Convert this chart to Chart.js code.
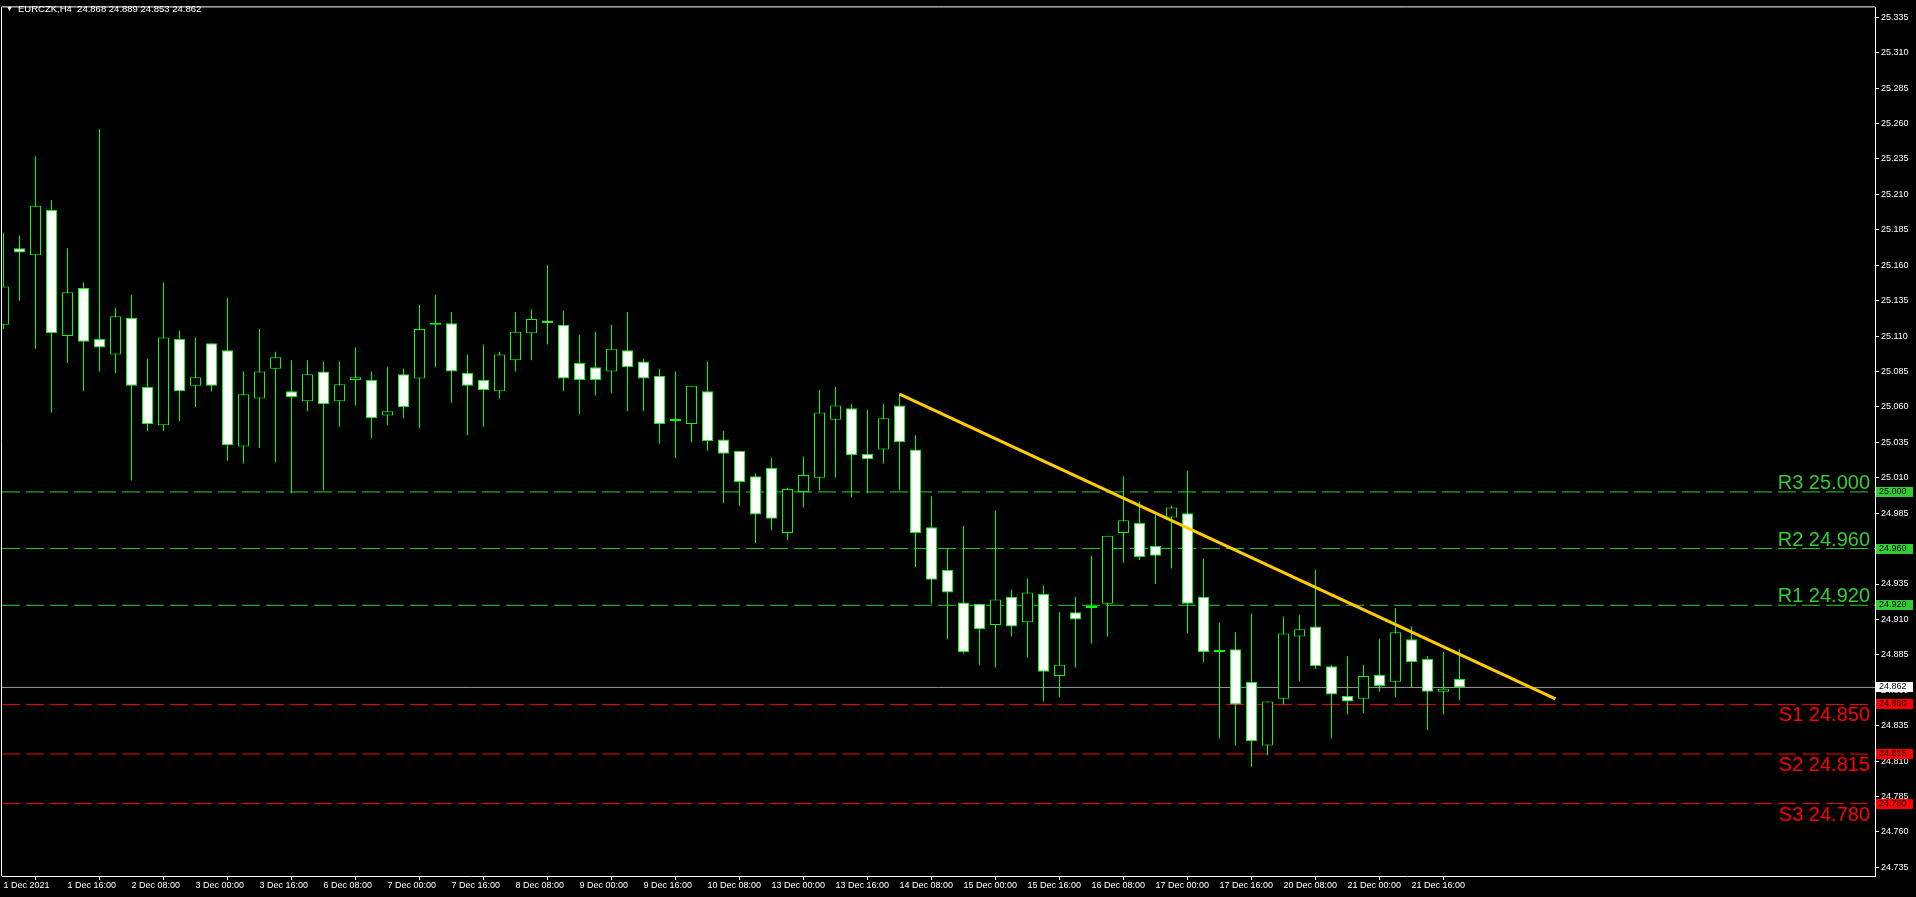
<!DOCTYPE html>
<html>
<head>
<meta charset="utf-8">
<script src="https://cdn.jsdelivr.net/npm/chart.js@4.4.0/dist/chart.umd.min.js"></script>
<style>
  html, body { margin: 0; padding: 0; background: #000; overflow: hidden; }
  #wrap { position: relative; width: 1916px; height: 897px; }
  .hd { position: absolute; top: 4px; color: #fff; font: 9px 'Liberation Sans', Arial, sans-serif; white-space: pre; line-height: 10px; }
</style>
</head>
<body>
<div id="wrap">
  <canvas id="chart" width="1916" height="897"></canvas>
  <div class="hd" style="left:6px;font-size:7px;">▼</div>
  <div class="hd" style="left:18px;font-size:9.5px;">EURCZK,H4  24.868 24.889 24.853 24.862</div>
</div>
<script>
// H4 bars, 1 Dec 2021 00:00 .. 22 Dec 04:00
const opens = [
  25.118, 25.172, 25.167, 25.199, 25.110, 25.144, 25.108, 25.097, 25.123, 25.074,
  25.047, 25.108, 25.075, 25.105, 25.100, 25.032, 25.066, 25.087, 25.071, 25.064,
  25.085, 25.064, 25.079, 25.079, 25.054, 25.083, 25.080, 25.118, 25.119, 25.084,
  25.079, 25.071, 25.093, 25.112, 25.121, 25.118, 25.091, 25.088, 25.085, 25.100,
  25.092, 25.082, 25.050, 25.048, 25.071, 25.037, 25.029, 25.011, 25.017, 24.971,
  25.000, 25.010, 25.051, 25.059, 25.027, 25.030, 25.061, 25.030, 24.975, 24.945,
  24.922, 24.921, 24.906, 24.926, 24.908, 24.928, 24.870, 24.915, 24.918, 24.921,
  24.971, 24.978, 24.962, 24.982, 24.985, 24.926, 24.887, 24.889, 24.866, 24.821,
  24.854, 24.898, 24.905, 24.877, 24.856, 24.854, 24.871, 24.866, 24.896, 24.882,
  24.859, 24.868
];
const highs = [
  25.183, 25.181, 25.237, 25.206, 25.172, 25.148, 25.256, 25.130, 25.139, 25.094,
  25.148, 25.114, 25.109, 25.105, 25.137, 25.085, 25.115, 25.099, 25.093, 25.093,
  25.092, 25.092, 25.102, 25.085, 25.088, 25.087, 25.132, 25.139, 25.127, 25.097,
  25.104, 25.099, 25.127, 25.129, 25.160, 25.128, 25.111, 25.113, 25.118, 25.127,
  25.094, 25.087, 25.085, 25.075, 25.092, 25.043, 25.029, 25.013, 25.024, 25.003,
  25.025, 25.072, 25.074, 25.062, 25.058, 25.062, 25.069, 25.040, 24.997, 24.960,
  24.976, 24.921, 24.987, 24.931, 24.939, 24.934, 24.915, 24.926, 24.955, 24.969,
  25.011, 24.993, 24.984, 24.990, 25.015, 24.953, 24.908, 24.901, 24.914, 24.852,
  24.912, 24.913, 24.945, 24.878, 24.884, 24.878, 24.896, 24.918, 24.905, 24.884,
  24.887, 24.889
];
const lows = [
  25.115, 25.135, 25.101, 25.056, 25.091, 25.071, 25.085, 25.084, 25.008, 25.043,
  25.043, 25.050, 25.060, 25.071, 25.022, 25.020, 25.031, 25.021, 24.999, 25.057,
  25.001, 25.046, 25.061, 25.038, 25.047, 25.052, 25.045, 25.088, 25.063, 25.040,
  25.046, 25.066, 25.085, 25.093, 25.104, 25.071, 25.055, 25.068, 25.070, 25.057,
  25.057, 25.034, 25.024, 25.035, 25.029, 24.992, 24.990, 24.964, 24.973, 24.966,
  24.989, 25.001, 25.010, 24.996, 24.999, 25.020, 25.001, 24.947, 24.921, 24.896,
  24.886, 24.878, 24.876, 24.898, 24.883, 24.852, 24.855, 24.876, 24.893, 24.898,
  24.950, 24.952, 24.935, 24.946, 24.900, 24.880, 24.826, 24.821, 24.806, 24.814,
  24.850, 24.866, 24.875, 24.826, 24.843, 24.844, 24.859, 24.855, 24.862, 24.832,
  24.843, 24.853
];
const closes = [
  25.145, 25.169, 25.202, 25.112, 25.141, 25.106, 25.102, 25.124, 25.075, 25.048,
  25.109, 25.071, 25.081, 25.075, 25.033, 25.069, 25.085, 25.095, 25.067, 25.083,
  25.062, 25.076, 25.081, 25.052, 25.057, 25.060, 25.115, 25.118, 25.085, 25.075,
  25.072, 25.097, 25.113, 25.122, 25.119, 25.080, 25.079, 25.079, 25.101, 25.088,
  25.080, 25.048, 25.050, 25.075, 25.036, 25.027, 25.007, 24.984, 24.981, 25.002,
  25.012, 25.056, 25.061, 25.026, 25.023, 25.052, 25.035, 24.971, 24.938, 24.929,
  24.887, 24.903, 24.924, 24.905, 24.929, 24.873, 24.878, 24.910, 24.918, 24.969,
  24.980, 24.954, 24.955, 24.989, 24.921, 24.887, 24.887, 24.850, 24.824, 24.852,
  24.900, 24.903, 24.877, 24.857, 24.852, 24.870, 24.863, 24.901, 24.880, 24.859,
  24.861, 24.862
];

const xTickIdx = [0, 4, 8, 12, 16, 20, 24, 28, 32, 36, 40, 44, 48, 52, 56, 60, 64, 68, 72, 76, 80, 84, 88];
const xTickLabels = [
  '1 Dec 2021', '1 Dec 16:00', '2 Dec 08:00', '3 Dec 00:00', '3 Dec 16:00', '6 Dec 08:00',
  '7 Dec 00:00', '7 Dec 16:00', '8 Dec 08:00', '9 Dec 00:00', '9 Dec 16:00', '10 Dec 08:00',
  '13 Dec 00:00', '13 Dec 16:00', '14 Dec 08:00', '15 Dec 00:00', '15 Dec 16:00', '16 Dec 08:00',
  '17 Dec 00:00', '17 Dec 16:00', '20 Dec 08:00', '21 Dec 00:00', '21 Dec 16:00'
];
const yTicks = [
  25.335, 25.310, 25.285, 25.260, 25.235, 25.210, 25.185, 25.160, 25.135, 25.110,
  25.085, 25.060, 25.035, 25.010, 24.985, 24.960, 24.935, 24.910, 24.885, 24.860,
  24.835, 24.810, 24.785, 24.760, 24.735
];

const resistNames = ['R3', 'R2', 'R1'];
const resistVals = [25.000, 24.960, 24.920];
const supportNames = ['S1', 'S2', 'S3'];
const supportVals = [24.850, 24.815, 24.780];
const lastPrice = 24.862;
const trendIdx = [56, 97];
const trendVals = [25.069, 24.854];

// view window
const xMin = -0.09375, xMax = 116.96875;
const yMin = 24.7289, yMax = 25.342;

const GREEN = '#00ff00';
const RGREEN = '#32cd32';
const RED = '#ff0000';
const FONT = "'Liberation Sans', Arial, sans-serif";

const bodies = opens.map((o, i) => ({ x: i, y: [o, closes[i]] }));
const bodyFill = opens.map((o, i) => closes[i] < o ? '#ffffff' : '#000000');
const wicks = lows.map((l, i) => ({ x: i, y: [l, highs[i]] }));

function levelLine(v, color) {
  return {
    type: 'line',
    data: [{ x: xMin, y: v }, { x: xMax, y: v }],
    borderColor: color,
    borderWidth: 1,
    borderDash: [18, 6],
    pointRadius: 0,
    order: 5
  };
}

const overlay = {
  id: 'overlay',
  afterDraw(chart) {
    const { ctx, chartArea: a, scales: { y } } = chart;
    ctx.save();
    ctx.strokeStyle = '#fff';
    ctx.lineWidth = 1;
    ctx.beginPath();
    ctx.moveTo(a.left - 0.5, a.bottom);
    ctx.lineTo(a.left - 0.5, a.top - 0.5);
    ctx.lineTo(a.right, a.top - 0.5);
    ctx.stroke();

    // resistance labels sit above their line, support labels below
    const levels = resistVals.map((v, i) => [resistNames[i], v, RGREEN, -3])
      .concat(supportVals.map((v, i) => [supportNames[i], v, RED, 17]));
    levels.forEach(([name, v, col, dy]) => {
      const py = Math.round(y.getPixelForValue(v));
      ctx.font = '20px ' + FONT;
      ctx.fillStyle = col;
      ctx.textAlign = 'right';
      ctx.textBaseline = 'alphabetic';
      ctx.fillText(name + ' ' + v.toFixed(3), a.right - 5, py + dy);
      ctx.fillRect(a.right + 1, py - 5, 37, 10);
      ctx.font = '9px ' + FONT;
      ctx.fillStyle = '#000';
      ctx.textAlign = 'left';
      ctx.textBaseline = 'middle';
      ctx.fillText(v.toFixed(3), a.right + 4, py);
    });
    const pl = Math.round(y.getPixelForValue(lastPrice));
    ctx.fillStyle = '#fff';
    ctx.fillRect(a.right + 1, pl - 5, 37, 10);
    ctx.font = '9px ' + FONT;
    ctx.fillStyle = '#000';
    ctx.textAlign = 'left';
    ctx.textBaseline = 'middle';
    ctx.fillText(lastPrice.toFixed(3), a.right + 4, pl);
    ctx.restore();
  }
};

Chart.defaults.font.family = FONT;
Chart.defaults.font.size = 9;

new Chart(document.getElementById('chart'), {
  type: 'bar',
  data: {
    datasets: [
      {
        type: 'line',
        data: [{ x: trendIdx[0], y: trendVals[0] }, { x: trendIdx[1], y: trendVals[1] }],
        borderColor: '#ffcc00',
        borderWidth: 3,
        pointRadius: 0,
        order: 1
      },
      {
        data: bodies,
        backgroundColor: bodyFill,
        borderColor: GREEN,
        borderWidth: 1,
        borderSkipped: false,
        barThickness: 11,
        minBarLength: 2,
        inflateAmount: 0,
        grouped: false,
        order: 2
      },
      {
        data: wicks,
        backgroundColor: GREEN,
        borderWidth: 0,
        barThickness: 1,
        inflateAmount: 0,
        grouped: false,
        order: 3
      },
      {
        type: 'line',
        data: [{ x: xMin, y: lastPrice }, { x: xMax, y: lastPrice }],
        borderColor: '#9a9a9a',
        borderWidth: 1,
        pointRadius: 0,
        order: 4
      },
      ...resistVals.map(v => levelLine(v, RGREEN)),
      ...supportVals.map(v => levelLine(v, RED))
    ]
  },
  options: {
    responsive: false,
    animation: false,
    devicePixelRatio: 1,
    layout: { padding: { left: 2, top: 2, right: 0, bottom: 0 } },
    plugins: { legend: { display: false }, tooltip: { enabled: false } },
    scales: {
      x: {
        type: 'linear',
        min: xMin,
        max: xMax,
        offset: false,
        afterBuildTicks: s => { s.ticks = xTickIdx.map(v => ({ value: v })); },
        afterFit: s => { s.height = 21; },
        grid: { drawOnChartArea: false, drawTicks: true, tickLength: 4, color: '#fff' },
        border: { display: true, color: '#fff' },
        ticks: {
          color: '#fff',
          align: 'start',
          maxRotation: 0,
          autoSkip: false,
          padding: 0,
          callback: v => xTickLabels[xTickIdx.indexOf(v)]
        }
      },
      y: {
        position: 'right',
        min: yMin,
        max: yMax,
        afterBuildTicks: s => { s.ticks = yTicks.map(v => ({ value: v })); },
        afterFit: s => { s.width = 41; },
        grid: { drawOnChartArea: false, drawTicks: true, tickLength: 4, color: '#fff' },
        border: { display: true, color: '#fff' },
        ticks: {
          color: '#fff',
          padding: 2,
          callback: v => v.toFixed(3)
        }
      }
    }
  },
  plugins: [overlay]
});
</script>
</body>
</html>
